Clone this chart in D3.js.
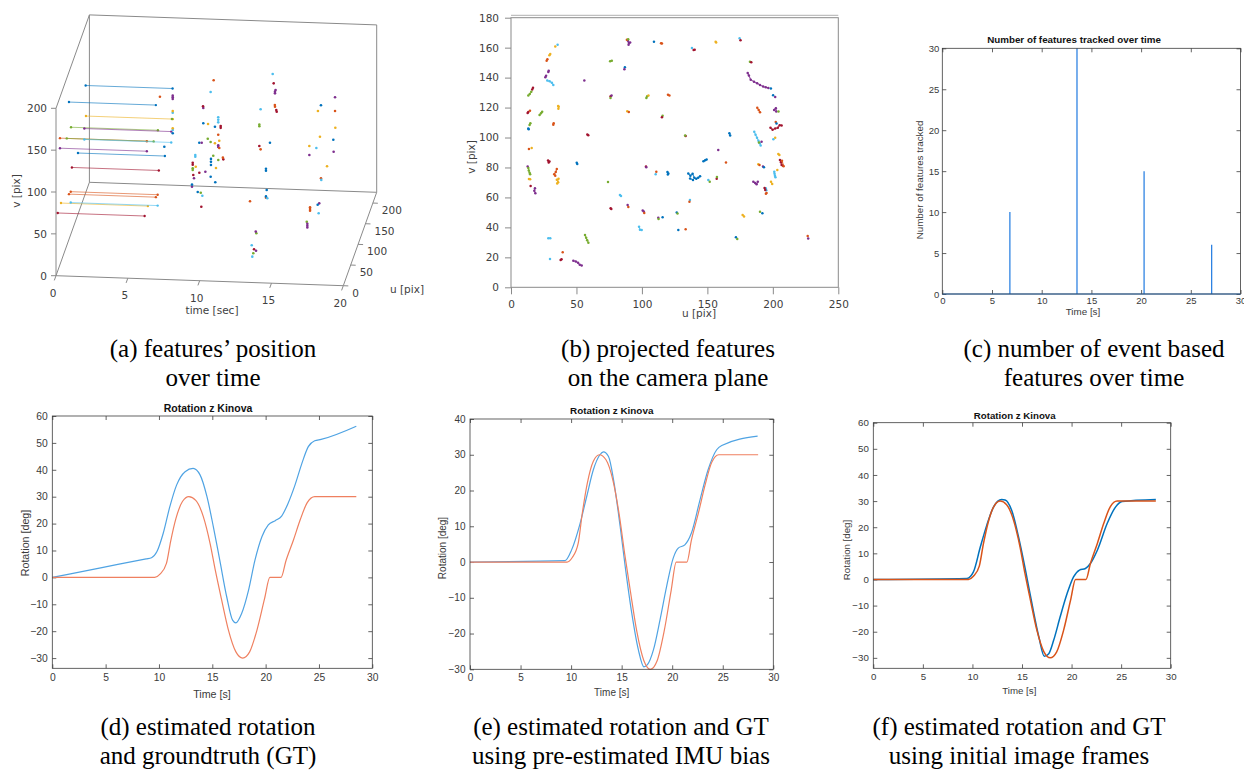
<!DOCTYPE html>
<html>
<head>
<meta charset="utf-8">
<script src="https://cdn.jsdelivr.net/npm/d3@7"></script>
<style>
  body { margin: 0; background: #fff; }
  svg { display: block; }
</style>
</head>
<body>
<svg id="fig" width="1244" height="770"></svg>
<script>
// ---------- shared ----------
const palette = ['#0072BD', '#D95319', '#EDB120', '#7E2F8E', '#77AC30', '#4DBEEE', '#A2142F'];

// ---------- (a) features over time, 3-D view ----------
// tracks of the first image frame: [tStart, tEnd, u, v, colour]
const earlyTracks = [
  [0.1, 6.15, 191, 133, 0], [0.1, 6.15, 78, 169, 0], [0.1, 6.15, 193, 95.5, 2],
  [0.1, 6.15, 92, 132, 4], [0.1, 6.15, 182, 86, 3], [0.1, 6.15, 17, 156, 1],
  [0.1, 6.15, 63, 133, 4], [0.1, 6.15, 182, 73, 5], [0.1, 6.15, 17, 144, 3],
  [0.1, 6.15, 139, 78, 0], [0.1, 6.15, 98, 81, 6], [0.1, 6.15, 90, 56, 1],
  [0.1, 6.15, 78, 59, 1], [0.1, 6.15, 24, 75, 2], [0.1, 6.15, 90, 43, 5],
  [0.1, 6.15, 2, 74, 6]
];
// later detections: [t, u, v, colour]
const laterPoints = [
  [9.74,120,180,1],[9.53,120,166,5],[9.02,120,146.5,3],[9.0,120,148.5,6],[9.02,120,128.2,0],
  [9.35,120,127.6,2],[10.06,120,130,5],[10.06,120,133,5],[10.06,120,136,5],[9.83,120,124.6,0],
  [10.23,120,125.7,6],[10.23,120,123.5,6],[10.06,120,115.2,1],[10.13,120,108.1,2],[8.74,120,104.9,0],
  [8.91,120,105,3],[9.33,120,110,4],[9.53,120,106.2,4],[9.83,120,104.8,2],[10.06,120,102.5,3],
  [10.06,120,100.5,3],[10.13,120,99.4,1],
  [9.08,60,120,5],[9.08,60,118,5],[10.33,60,119.9,4],[10.17,60,108.7,0],[10.17,60,112.5,0],
  [10.17,60,116,0],[10.68,60,115,4],[11.03,60,116,6],[11.0,60,118,1],[8.9,60,108.3,6],
  [8.9,60,110.5,6],[8.9,60,104,4],[8.9,60,102,4],[9.11,60,106,2],[9.36,60,99,6],
  [9.78,60,100.5,3],[10.52,60,105.3,2],[8.94,60,96,6],[8.99,60,92.1,3],[8.85,60,82,3],
  [8.85,60,84.5,0],[9.25,60,75.9,0],[9.46,60,75.2,4],[9.57,60,71.7,5],[10.15,60,94.7,0],
  [10.47,60,88.2,0],[9.91,20,78.5,6],
  [13.85,120,190,5],[13.92,120,178.9,6],[14.01,120,167,3],[14.01,120,169,3],[14.05,120,171,3],
  [14.01,120,151,1],[14.0,120,153,1],[14.13,120,145.1,6],[14.1,120,147,6],[13.01,120,147.3,5],
  [12.92,120,127,4],[12.92,120,129,4],[13.66,120,107.8,0],[12.92,120,103.4,6],[13.01,120,99.5,1],
  [14.0,60,104.2,0],[14.0,60,106.5,0],[14.05,60,81.2,0],[14.0,60,71.9,1],[14.0,60,73.5,0],
  [14.09,60,71.3,5],[13.3,20,87,1],[13.74,20,49,4],[13.7,20,51,3],[13.42,20,34.5,5],
  [13.58,20,29.8,6],[13.72,20,28.2,3],[13.53,20,25,4],[13.46,20,20.9,5],
  [18.19,120,164.8,3],[17.21,120,154.6,0],[17.0,120,147.7,2],[18.19,120,148.4,1],[18.21,120,128.4,2],
  [17.14,120,117,2],[18.07,120,114,0],[16.4,120,105.5,2],[16.89,120,103.4,5],[18.71,60,129.7,3],
  [17.02,60,124.7,3],[18.25,60,112,2],[17.83,60,97.4,1],[17.85,60,95.5,5],[18.12,20,87.4,3],
  [18.01,20,85.7,0],[17.48,20,78.2,1],[17.48,20,80.2,1],[17.48,20,82.2,1],[18.08,20,75.5,5],
  [17.25,20,64.9,4],[17.29,20,58,3],[17.29,20,60.2,3],[17.29,20,62.4,3],
  [5.28,190,123.2,1],[6.17,190,121,3],[6.17,190,123,3],[6.17,190,125,3],[6.17,190,104.6,5],
  [6.17,190,106.5,2],[6.12,190,97,4],[6.17,190,84,5],[6.17,190,86,2],[6.17,190,80,0],[6.1,140,88.6,0]
];
const timeTicksA = [0, 5, 10, 15, 20];
const uTicksA = [0, 50, 100, 150, 200];
const vTicksA = [0, 50, 100, 150, 200];

// ---------- (b) projected features: [colour, [[u, v], ...]] ----------
const camTracks = [
  [2,[[33.8,160.8]]],[5,[[35.6,161.9]]],[2,[[29.3,154.9],[30,155.8]]],[1,[[27.2,151.3],[27.8,152.2]]],
  [3,[[28.5,143.7],[28.8,144.5]]],[3,[[26.2,140.2],[26.8,141.3]]],
  [5,[[27.7,138],[29.5,137.6],[31.2,136.5],[32.3,135.1]]],
  [6,[[16.8,133.3],[16.2,132]]],[4,[[15.5,130.5],[14.3,129],[13.2,128]]],
  [6,[[12.7,116.3],[13.2,117]]],[1,[[14.5,117.9]]],[4,[[21.8,115],[22.9,116.2],[23.8,117.2]]],
  [2,[[36.2,119.2],[36.4,120.5],[36,121]]],[4,[[14.2,108.4],[14.8,109.5]]],[0,[[13.2,106.1],[13.5,105.6]]],
  [1,[[32.3,108.5],[32.6,109.6]]],[1,[[13.7,92.3]]],[2,[[15.8,93]]],[6,[[28.3,84.6],[28.8,83.4],[29.4,84]]],
  [3,[[12.7,80.6]]],[4,[[13.2,79.6],[13.6,78],[14.2,76.5],[14.6,75.4]]],[2,[[13.7,72.3],[14.6,72.2]]],
  [1,[[35,79],[34.2,77],[33,75.5],[33.8,74.5]]],[2,[[35,71.8],[36,70.2],[35.3,69.3],[36.3,72.4]]],
  [6,[[15,67.6]]],[3,[[18.3,66.1],[17.8,64.5],[18.6,62.8]]],[3,[[56,138]]],[6,[[58.3,102.1],[59,101.6]]],
  [0,[[50.2,83.2],[50.6,82.4]]],[4,[[74.1,70.3]]],[5,[[83.2,61.6],[84,61]]],[6,[[76.1,52.7],[76.6,52.3]]],
  [3,[[89.1,55]]],[1,[[89.6,53.6]]],[3,[[100.6,51.2],[101.4,50.6]]],[1,[[101.8,49.6]]],
  [3,[[112.5,46.5]]],[4,[[112.7,45.6]]],[0,[[115.8,46.7]]],[0,[[126.6,50]]],[4,[[127.2,49.2]]],
  [5,[[97.8,40.5],[98.5,38.5],[99.8,38.3]]],[0,[[127.8,38.3]]],[1,[[133.4,38.7]]],
  [5,[[28.5,32.7],[30,32.8]]],[5,[[29.8,18.9]]],[4,[[56.5,34.9],[57.4,33],[58.2,31.4],[59.1,29.8]]],
  [1,[[39.5,23.4]]],[6,[[37.9,18.2],[38.6,18.8]]],[3,[[47.6,17.8],[49.5,17.2],[51.2,16.4],[52.5,15],[54,14.5]]],
  [4,[[75.7,151],[77,151.2]]],[0,[[87,147]]],[3,[[86.6,145.5]]],
  [3,[[89.3,164.6],[90,163.2],[89.8,162],[91,163.5]]],[1,[[88.5,165.3]]],[4,[[89.5,165.6]]],
  [0,[[109.2,164]]],[1,[[114.6,162.9],[115.3,162.8]]],[6,[[76.1,127.6]]],[4,[[76,126.4]]],[3,[[76.8,128]]],
  [2,[[88.8,117.6]]],[1,[[90,117]]],[4,[[103.4,126.4],[104,127.5]]],[2,[[105,128]]],
  [1,[[119.9,128.5],[121,128.1]]],[4,[[115.8,114.6]]],[6,[[115.3,113.6]]],[6,[[103.1,80.6]]],[3,[[103.3,80.2]]],
  [1,[[111,77.2]]],[5,[[110.5,75.5]]],[0,[[119.5,77],[120.2,76],[119.8,75.3]]],[6,[[133.4,101]]],[4,[[133,101.4]]],
  [5,[[138.2,159.8]]],[6,[[139.5,158.5],[140.3,158.6]]],[2,[[156.3,164],[156.7,163.5]]],
  [5,[[174.6,166.3]]],[6,[[175.3,164.9]]],[4,[[182.5,150.6]]],[6,[[183.5,150.2]]],
  [3,[[180.8,143],[181.7,141.4],[183.1,138.6],[185.6,137.2],[188,136.2],[190.2,135.1],[192.6,134.1],[194.6,133.5],[196.6,133.1]]],
  [0,[[198.5,132.8]]],[0,[[200.2,128.3]]],[3,[[201.8,127]]],[1,[[188.1,119.9],[189.2,118.4],[190.2,116.8]]],
  [3,[[201,118.4],[202.3,119.6],[202.6,117.4]]],[4,[[204.3,117.3]]],[1,[[202.2,110.4]]],[0,[[202.8,109.3]]],
  [6,[[198.2,106.5],[199.8,105.2],[201.8,106],[203.8,106.5],[205.2,108.2],[206.7,108.1]]],
  [5,[[185.8,103.9],[186.8,101.8],[187.9,99.8],[189,97.8],[190,96.2],[190.7,94.6]]],
  [3,[[191.4,97.2]]],[4,[[189.4,96.6]]],[5,[[200.4,98.8]]],[2,[[201.8,99.9]]],
  [0,[[166.8,102.8],[167.4,101.4]]],[3,[[158.3,91.7]]],[0,[[147,84.2],[148.3,84.8],[149.4,85.3]]],
  [1,[[164.2,83.4]]],[2,[[188.9,82.1]]],[1,[[189.8,81.6]]],[3,[[192.5,80.6]]],[0,[[193.2,80.2]]],
  [2,[[204.2,89],[205,88.3]]],[6,[[205.4,85],[206.2,83.5],[206.7,81.7],[207.8,81.2]]],[1,[[207,84.5],[208.2,80.8]]],
  [5,[[201.1,77.2],[201.3,75.8],[201.6,74.4],[202,73.4]]],[2,[[203.4,78.3]]],
  [0,[[135.4,76],[137,74.5],[138.7,75.8],[140,73.2],[141.5,72.4],[143,73.2],[144.4,74.2]]],
  [0,[[139,71.6],[136.8,72.6]]],[5,[[150.7,71.6]]],[4,[[151.8,70.4]]],[6,[[157.1,72.5]]],[4,[[157.3,73.6]]],
  [3,[[185.1,70.5],[186.5,69.6],[187.6,68.8],[188.5,70.4]]],[5,[[194.6,66.2],[195,64.8]]],
  [6,[[193.7,66.3],[194.2,65]]],[1,[[195.2,63],[194.7,62.4]]],[2,[[198.6,70.5],[199.5,69]]],
  [5,[[136.7,58.3]]],[1,[[136.3,57.1]]],[2,[[176.9,48.3],[178,47.3]]],[4,[[190.2,50.5]]],[0,[[192,49.5]]],
  [0,[[171.8,33.4]]],[4,[[172.8,32.3]]],[1,[[226.6,34.3]]],[3,[[227,32.5]]]
];
const uTicksB = [0, 50, 100, 150, 200, 250];
const vTicksB = [0, 20, 40, 60, 80, 100, 120, 140, 160, 180];

// ---------- (c) number of tracked features ----------
const spikeTime = [6.8, 13.55, 20.3, 27.1];
const spikeCount = [10, 30, 15, 6];
const ticksC = [0, 5, 10, 15, 20, 25, 30];

// ---------- (d)-(f) rotation about z ----------
const gtTime = [0, 9.6, 10.1, 10.7, 11.1, 11.6, 12.2, 12.8, 13.45, 14.15, 14.8, 15.3, 15.85, 16.5, 17.2, 17.85, 18.5, 19.2, 19.9, 20.4, 21.45, 21.9, 22.6, 23.25, 23.9, 24.6, 28.5];
const gtRot  = [0, 0, 1.2, 5.2, 13.5, 22, 28.2, 30, 28.6, 22.7, 12.5, 2.3, -7.9, -19.4, -27.6, -30, -27.7, -19.4, -7.9, 0, 0, 6.1, 13.8, 21.5, 27.8, 30, 30];

const estTimeD = [0, 4.65, 8.8, 9.3, 9.8, 10.4, 11.0, 11.65, 12.45, 13.2, 13.85, 14.5, 15.1, 15.7, 16.35, 16.9, 17.2, 17.75, 18.4, 19.0, 19.65, 20.25, 20.9, 21.5, 22.1, 22.75, 23.4, 24.0, 24.6, 25.2, 28.5];
const estRotD  = [0, 3.65, 6.9, 7.3, 9.5, 16.4, 26, 34.3, 39.3, 40.5, 38.1, 30, 18.8, 6.4, -7.2, -15.9, -16.9, -13.4, -4.7, 6.4, 15.1, 19.5, 21.1, 22.8, 27.5, 34.3, 42.4, 48.6, 50.8, 51.3, 56.2];

const estTimeE = [0, 9.4, 10.05, 10.9, 11.55, 12.2, 12.85, 13.2, 13.7, 14.2, 14.85, 15.35, 16.0, 16.65, 17.2, 17.55, 18.15, 18.8, 19.45, 20.1, 20.6, 21.25, 21.9, 22.75, 23.55, 24.4, 24.9, 28.45];
const estRotE  = [0, 0.4, 3.4, 10.9, 18.4, 25.8, 30, 30.8, 29.5, 23, 10, -1.2, -14.3, -24.5, -29.3, -28.7, -24.5, -16.1, -6.8, 1.1, 3.9, 4.8, 8.1, 17.4, 25.8, 31.4, 32.6, 35.2];

const estTimeF = [0, 9.45, 10.1, 10.8, 11.45, 12.15, 12.95, 13.3, 14.0, 14.65, 15.35, 16.0, 16.7, 17.25, 17.7, 18.2, 18.85, 19.55, 20.2, 20.8, 21.4, 21.9, 22.6, 23.6, 24.45, 25.1, 28.5];
const estRotF  = [0, 0.4, 2.9, 12.5, 20.8, 27.9, 30.6, 30.4, 26, 16.3, 3.6, -9.2, -22, -29.4, -28.4, -23.2, -14.3, -5.4, 1, 3.6, 4.2, 6.1, 11.2, 21.5, 27.8, 29.8, 30.6];

const timeTicks = [0, 5, 10, 15, 20, 25, 30];

// captions
const captions = [
  { x: 213, y: 357, lines: ['(a) features\u2019 position', 'over time'] },
  { x: 668, y: 357, lines: ['(b) projected features', 'on the camera plane'] },
  { x: 1094, y: 357, lines: ['(c) number of event based', 'features over time'] },
  { x: 208, y: 735, lines: ['(d) estimated rotation', 'and groundtruth (GT)'] },
  { x: 621, y: 735, lines: ['(e) estimated rotation and GT', 'using pre-estimated IMU bias'] },
  { x: 1019, y: 735, lines: ['(f) estimated rotation and GT', 'using initial image frames'] }
];

const svg = d3.select('#fig');
svg.append('rect').attr('width', 1244).attr('height', 770).attr('fill', '#fff');

const SANS_A = 'DejaVu Sans, sans-serif';
const SANS_M = 'Liberation Sans, Arial, sans-serif';

// ================= (a) =================
(function drawA() {
  const g = svg.append('g');
  const O = [56, 275.7];
  const tAx = d3.scaleLinear().domain([0, 20]).range([0, 1]);
  const uAx = d3.scaleLinear().domain([0, 226]).range([0, 1]);
  const vAx = d3.scaleLinear().domain([0, 200]).range([0, 1]);
  const eT = [287.3, 10], eU = [33.4, -93.4], eV = [0, -167.4];
  const P = (t, u, v) => [
    O[0] + tAx(t) * eT[0] + uAx(u) * eU[0] + vAx(v) * eV[0],
    O[1] + tAx(t) * eT[1] + uAx(u) * eU[1] + vAx(v) * eV[1]
  ];
  const box = '#8a8a8a';
  const seg = (a, b) => g.append('line').attr('x1', a[0]).attr('y1', a[1]).attr('x2', b[0]).attr('y2', b[1])
    .attr('stroke', box).attr('stroke-width', 1);
  const T1 = 20, U1 = 226, V1 = 200;
  seg(P(0, U1, 0), P(T1, U1, 0));
  seg(P(T1, U1, 0), P(T1, U1, V1));
  seg(P(T1, U1, V1), P(0, U1, V1));
  seg(P(0, U1, V1), P(0, U1, 0));
  seg(P(0, 0, 0), P(0, U1, 0));
  seg(P(0, 0, V1), P(0, U1, V1));
  seg(P(0, 0, 0), P(0, 0, V1));
  seg(P(0, 0, 0), P(T1, 0, 0));
  seg(P(T1, 0, 0), P(T1, U1, 0));

  const lab = { fill: '#404040', 'font-family': SANS_A, 'font-size': 10.5 };
  const txt = (x, y, s, anchor) => {
    const t = g.append('text').attr('x', x).attr('y', y).attr('text-anchor', anchor || 'middle')
      .attr('dominant-baseline', 'central').text(s);
    Object.entries(lab).forEach(([k, v]) => t.attr(k, v));
    return t;
  };
  timeTicksA.forEach(t => {
    const p = P(t, 0, 0);
    g.append('line').attr('x1', p[0]).attr('y1', p[1]).attr('x2', p[0] - 1.7).attr('y2', p[1] + 4.7).attr('stroke', box);
    txt(p[0] - 3, p[1] + 17, t);
  });
  uTicksA.forEach(u => {
    const p = P(T1, u, 0);
    g.append('line').attr('x1', p[0]).attr('y1', p[1]).attr('x2', p[0] + 5).attr('y2', p[1] + 0.2).attr('stroke', box);
    txt(p[0] + 9, p[1] + 7, u, 'start');
  });
  vTicksA.forEach(v => {
    const p = P(0, 0, v);
    g.append('line').attr('x1', p[0]).attr('y1', p[1]).attr('x2', p[0] - 5).attr('y2', p[1]).attr('stroke', box);
    txt(p[0] - 9, p[1], v, 'end');
  });
  txt(212, 310, 'time [sec]');
  txt(407, 289, 'u [pix]');
  txt(16, 191, 'v [pix]').attr('transform', 'rotate(-90,16,191)');

  earlyTracks.forEach(([t0, t1, u, v, c]) => {
    const a = P(t0, u, v), b = P(t1, u, v);
    g.append('line').attr('x1', a[0]).attr('y1', a[1]).attr('x2', b[0]).attr('y2', b[1])
      .attr('stroke', palette[c]).attr('stroke-width', 1).attr('stroke-opacity', 0.6);
    [a, b].forEach(p => g.append('circle').attr('cx', p[0]).attr('cy', p[1]).attr('r', 1.2).attr('fill', palette[c]));
  });
  laterPoints.forEach(([t, u, v, c]) => {
    const p = P(t, u, v);
    g.append('circle').attr('cx', p[0]).attr('cy', p[1]).attr('r', 1.3).attr('fill', palette[c]);
  });
})();

// ================= (b) =================
(function drawB() {
  const g = svg.append('g');
  const x = d3.scaleLinear().domain([0, 250]).range([511, 838.3]);
  const y = d3.scaleLinear().domain([0, 180]).range([287.3, 17.7]);
  const gray = '#8a8a8a';
  g.append('rect').attr('x', x(0)).attr('y', y(180)).attr('width', x(250) - x(0)).attr('height', y(0) - y(180))
    .attr('fill', 'none').attr('stroke', gray).attr('stroke-width', 1);
  g.append('line').attr('x1', x(0)).attr('x2', x(250)).attr('y1', y(180) - 2.4).attr('y2', y(180) - 2.4)
    .attr('stroke', '#b0b0b0').attr('stroke-width', 1);

  const xa = g.append('g').attr('transform', `translate(0,${y(0)})`)
    .call(d3.axisBottom(x).tickValues(uTicksB).tickSize(7).tickPadding(6));
  const ya = g.append('g').attr('transform', `translate(${x(0)},0)`)
    .call(d3.axisLeft(y).tickValues(vTicksB).tickSize(6).tickPadding(6));
  [xa, ya].forEach(a => {
    a.select('.domain').remove();
    a.selectAll('line').attr('stroke', gray);
    a.selectAll('text').attr('fill', '#404040').attr('font-family', SANS_A).attr('font-size', 10.5);
  });
  g.append('text').attr('x', 699).attr('y', 313).attr('text-anchor', 'middle').attr('dominant-baseline', 'central')
    .attr('fill', '#404040').attr('font-family', SANS_A).attr('font-size', 10.5).text('u [pix]');
  g.append('text').attr('transform', 'translate(471,157) rotate(-90)').attr('text-anchor', 'middle')
    .attr('dominant-baseline', 'central').attr('fill', '#404040').attr('font-family', SANS_A)
    .attr('font-size', 10.5).text('v [pix]');

  const line = d3.line().x(d => x(d[0])).y(d => y(d[1]));
  camTracks.forEach(([c, pts]) => {
    if (pts.length > 1) {
      g.append('path').attr('d', line(pts)).attr('fill', 'none').attr('stroke', palette[c])
        .attr('stroke-width', 1.2).attr('stroke-opacity', 0.8);
    }
    pts.forEach(p => g.append('circle').attr('cx', x(p[0])).attr('cy', y(p[1])).attr('r', 1.25).attr('fill', palette[c]));
  });
})();

// ================= MATLAB-style 2-D axes =================
function matlabAxes(cfg) {
  const g = svg.append('g');
  const x = d3.scaleLinear().domain(cfg.xDomain).range([cfg.left, cfg.right]);
  const y = d3.scaleLinear().domain(cfg.yDomain).range([cfg.bottom, cfg.top]);
  const fs = cfg.fontSize;
  const axCol = '#3c3c3c';
  const style = a => {
    a.select('.domain').remove();
    a.selectAll('line').attr('stroke', axCol).attr('stroke-width', 0.8);
    a.selectAll('text').attr('fill', '#3a3a3a').attr('font-family', SANS_M).attr('font-size', fs);
  };
  style(g.append('g').attr('transform', `translate(0,${cfg.bottom})`)
    .call(d3.axisBottom(x).tickValues(cfg.xTicks).tickSize(-4).tickPadding(cfg.xPad)));
  style(g.append('g').attr('transform', `translate(0,${cfg.top})`)
    .call(d3.axisTop(x).tickValues(cfg.xTicks).tickSize(-4).tickFormat('')));
  style(g.append('g').attr('transform', `translate(${cfg.left},0)`)
    .call(d3.axisLeft(y).tickValues(cfg.yTicks).tickSize(-4).tickPadding(cfg.yPad)));
  style(g.append('g').attr('transform', `translate(${cfg.right},0)`)
    .call(d3.axisRight(y).tickValues(cfg.yTicks).tickSize(-4).tickFormat('')));

  cfg.series.forEach(s => {
    const pts = s.t.map((t, i) => [t, s.v[i]]);
    g.append('path').attr('d', d3.line().curve(s.curve || d3.curveMonotoneX).x(d => x(d[0])).y(d => y(d[1]))(pts))
      .attr('fill', 'none').attr('stroke', s.color).attr('stroke-width', s.width || 1.2);
  });

  g.append('rect').attr('x', cfg.left).attr('y', cfg.top).attr('width', cfg.right - cfg.left)
    .attr('height', cfg.bottom - cfg.top).attr('fill', 'none').attr('stroke', axCol).attr('stroke-width', 0.8);

  g.append('text').attr('x', cfg.title[1]).attr('y', cfg.title[2]).attr('text-anchor', 'middle')
    .attr('dominant-baseline', 'central').attr('font-family', SANS_M).attr('font-weight', 'bold')
    .attr('font-size', cfg.titleSize).attr('fill', '#111').text(cfg.title[0]);
  g.append('text').attr('x', cfg.xlabel[1]).attr('y', cfg.xlabel[2]).attr('text-anchor', 'middle')
    .attr('dominant-baseline', 'central').attr('font-family', SANS_M).attr('font-size', cfg.labelSize)
    .attr('fill', '#3a3a3a').text(cfg.xlabel[0]);
  g.append('text').attr('transform', `translate(${cfg.ylabel[1]},${cfg.ylabel[2]}) rotate(-90)`)
    .attr('text-anchor', 'middle').attr('dominant-baseline', 'central').attr('font-family', SANS_M)
    .attr('font-size', cfg.labelSize).attr('fill', '#3a3a3a').text(cfg.ylabel[0]);
}

// (c)
const spikeT = [0], spikeV = [0];
spikeTime.forEach((t, i) => { spikeT.push(t, t, t); spikeV.push(0, spikeCount[i], 0); });
spikeT.push(30); spikeV.push(0);
matlabAxes({
  left: 942.3, right: 1240.5, top: 48.3, bottom: 294,
  xDomain: [0, 30], yDomain: [0, 30], xTicks: ticksC, yTicks: ticksC,
  fontSize: 9.5, labelSize: 9.8, titleSize: 9.8, xPad: 3.5, yPad: 3,
  title: ['Number of features tracked over time', 1074, 39.7],
  xlabel: ['Time [s]', 1083, 311],
  ylabel: ['Number of features tracked', 919, 180],
  series: [{ t: spikeT, v: spikeV, color: '#1f7ae0', width: 1.2, curve: d3.curveLinear }]
});

// (d)
matlabAxes({
  left: 52.3, right: 372.3, top: 416, bottom: 668.3,
  xDomain: [0, 30], yDomain: [-33.8, 60], xTicks: timeTicks, yTicks: d3.range(-30, 61, 10),
  fontSize: 10.3, labelSize: 10.7, titleSize: 10.5, xPad: 5, yPad: 4.5,
  title: ['Rotation z Kinova', 208, 408],
  xlabel: ['Time [s]', 212, 694],
  ylabel: ['Rotation [deg]', 25, 543],
  series: [
    { t: estTimeD, v: estRotD, color: '#4fa3e3' },
    { t: gtTime, v: gtRot, color: '#ef8060' }
  ]
});

// (e)
matlabAxes({
  left: 470, right: 773.3, top: 419, bottom: 669.3,
  xDomain: [0, 30], yDomain: [-30, 40], xTicks: timeTicks, yTicks: d3.range(-30, 41, 10),
  fontSize: 10, labelSize: 10, titleSize: 9.9, xPad: 5, yPad: 4.5,
  title: ['Rotation z Kinova', 611.7, 410.7],
  xlabel: ['Time [s]', 611.7, 692.3],
  ylabel: ['Rotation [deg]', 442.3, 548],
  series: [
    { t: estTimeE, v: estRotE, color: '#4fa3e3' },
    { t: gtTime, v: gtRot, color: '#ef8060' }
  ]
});

// (f)
matlabAxes({
  left: 873.3, right: 1170.7, top: 422.7, bottom: 668.3,
  xDomain: [0, 30], yDomain: [-34, 60], xTicks: timeTicks, yTicks: d3.range(-30, 61, 10),
  fontSize: 9.7, labelSize: 9.7, titleSize: 9.7, xPad: 5, yPad: 4.5,
  title: ['Rotation z Kinova', 1014.7, 415],
  xlabel: ['Time [s]', 1019.3, 690.7],
  ylabel: ['Rotation [deg]', 846.7, 550],
  series: [
    { t: estTimeF, v: estRotF, color: '#0072BD', width: 1.5 },
    { t: gtTime, v: gtRot, color: '#D95319', width: 1.5 }
  ]
});

// ================= captions =================
captions.forEach(c => {
  c.lines.forEach((s, i) => {
    svg.append('text').attr('x', c.x).attr('y', c.y + i * 29).attr('text-anchor', 'middle')
      .attr('font-family', 'Liberation Serif, Times New Roman, serif').attr('font-size', 25)
      .attr('fill', '#000').text(s);
  });
});
</script>
</body>
</html>
